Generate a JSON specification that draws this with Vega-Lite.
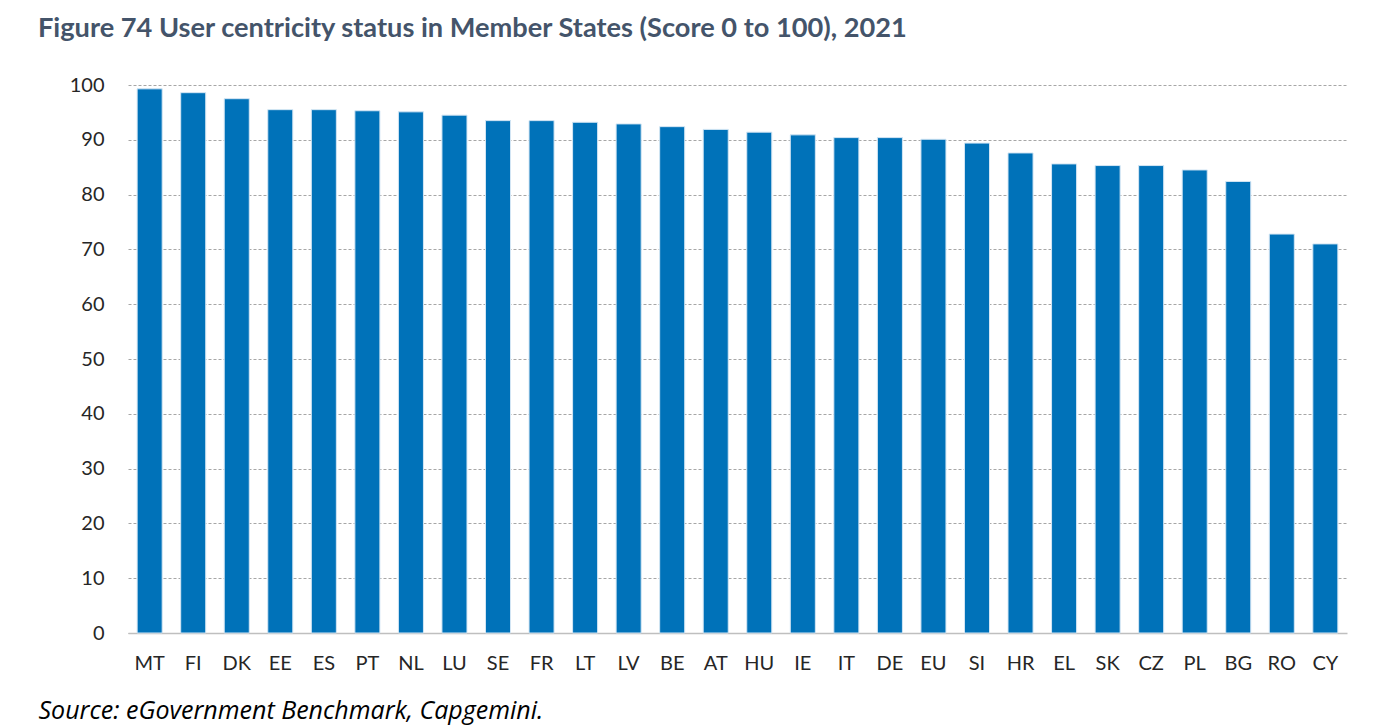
{
  "$schema": "https://vega.github.io/schema/vega-lite/v6.json",
  "width": 1386,
  "height": 727,
  "autosize": {"type": "fit", "contains": "padding"},
  "padding": {"left": 38, "top": 14, "right": 39, "bottom": 4},
  "background": "white",
  "title": {
    "text": "Figure 74 User centricity status in Member States (Score 0 to 100), 2021",
    "anchor": "start",
    "frame": "bounds",
    "font": "Lato",
    "fontSize": 27.2,
    "fontWeight": "bold",
    "color": "#44546a",
    "offset": 32
  },
  "data": {
    "values": [
      {"country": "MT", "score": 99.3},
      {"country": "FI", "score": 98.6},
      {"country": "DK", "score": 97.5},
      {"country": "EE", "score": 95.5},
      {"country": "ES", "score": 95.5},
      {"country": "PT", "score": 95.3},
      {"country": "NL", "score": 95.1},
      {"country": "LU", "score": 94.5},
      {"country": "SE", "score": 93.5},
      {"country": "FR", "score": 93.5},
      {"country": "LT", "score": 93.2},
      {"country": "LV", "score": 92.9},
      {"country": "BE", "score": 92.4},
      {"country": "AT", "score": 91.9},
      {"country": "HU", "score": 91.4},
      {"country": "IE", "score": 90.9},
      {"country": "IT", "score": 90.4},
      {"country": "DE", "score": 90.4},
      {"country": "EU", "score": 90.1},
      {"country": "SI", "score": 89.4},
      {"country": "HR", "score": 87.6},
      {"country": "EL", "score": 85.6},
      {"country": "SK", "score": 85.3},
      {"country": "CZ", "score": 85.3},
      {"country": "PL", "score": 84.5},
      {"country": "BG", "score": 82.4},
      {"country": "RO", "score": 72.8},
      {"country": "CY", "score": 71.0}
    ]
  },
  "mark": {"type": "bar", "color": "#0072b9", "stroke": "#d4e6f4", "strokeWidth": 1},
  "encoding": {
    "x": {
      "field": "country",
      "type": "nominal",
      "sort": null,
      "scale": {"paddingInner": 0.425, "paddingOuter": 0.21},
      "axis": {
        "title": "Source: eGovernment Benchmark, Capgemini.",
        "titleFont": "Open Sans",
        "titleFontSize": 25,
        "titleFontStyle": "italic",
        "titleFontWeight": "normal",
        "titleColor": "#000000",
        "titleAnchor": "start",
        "titleAlign": "left",
        "titleX": -90,
        "titlePadding": 25,
        "labelAngle": 0,
        "labelFont": "Lato",
        "labelFontSize": 20,
        "labelColor": "#262626",
        "labelPadding": 20,
        "ticks": false,
        "domainColor": "#bfbfbf",
        "domainWidth": 1.5,
        "grid": false
      }
    },
    "y": {
      "field": "score",
      "type": "quantitative",
      "scale": {"domain": [0, 100], "nice": false},
      "axis": {
        "title": null,
        "values": [0, 10, 20, 30, 40, 50, 60, 70, 80, 90, 100],
        "labelFont": "Lato",
        "labelFontSize": 20,
        "labelColor": "#262626",
        "labelPadding": 24,
        "ticks": false,
        "domain": false,
        "grid": true,
        "gridColor": "#a6a6a6",
        "gridDash": [3, 2],
        "gridWidth": 1
      }
    }
  },
  "config": {"view": {"stroke": null}}
}
